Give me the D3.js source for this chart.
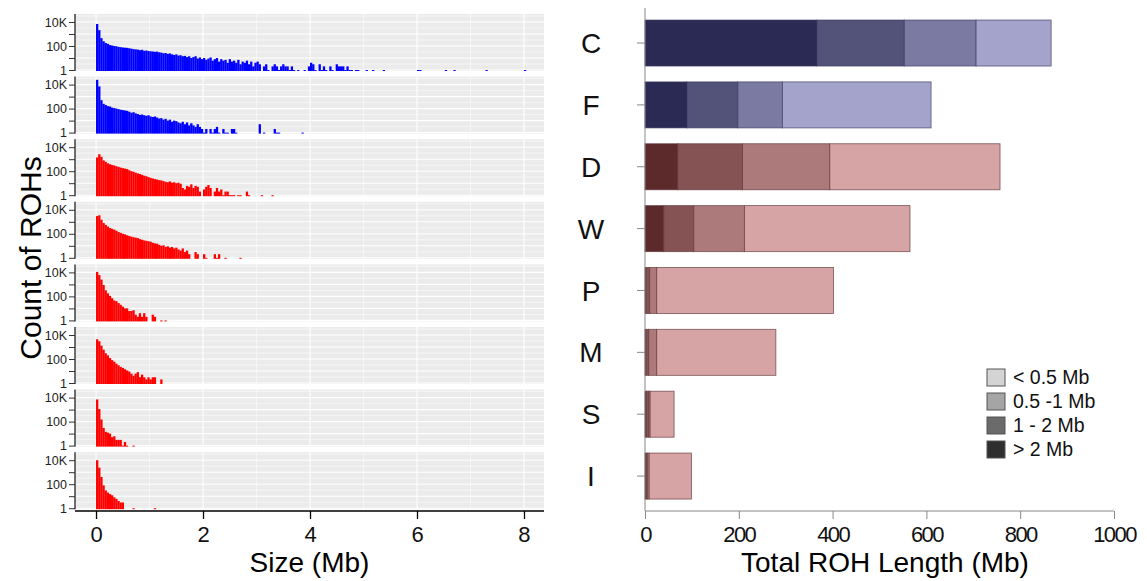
<!DOCTYPE html>
<html>
<head>
<meta charset="utf-8">
<script src="https://cdn.jsdelivr.net/npm/d3@7"></script>
<style>
  body { margin: 0; background: #fff; }
  svg { display: block; }
  text { font-family: "Liberation Sans", Arial, sans-serif; }
</style>
</head>
<body>
<svg id="chart" width="1147" height="581"></svg>
<script>
// ---- histogram data: ROH counts per 0.04 Mb size bin, one array per panel ----
const BIN_WIDTH = 0.04;
const panel1Counts = [
  6800, 2100, 450, 250, 180, 150, 120, 110, 100, 95,
  85, 80, 75, 72, 70, 65, 60, 55, 52, 50,
  45, 48, 40, 42, 38, 36, 35, 33, 34, 30,
  28, 25, 26, 22, 24, 20, 18, 20, 16, 17,
  14, 15, 12, 14, 10, 12, 14, 9, 11, 8,
  10, 7, 9, 11, 6, 8, 10, 5, 8, 6,
  7, 4, 8, 5, 6, 4, 7, 3, 5, 4,
  6, 3, 5, 2, 4, 5, 3, 0, 2, 3,
  1, 0, 2, 3, 2, 1, 2, 3, 2, 2,
  1, 2, 1, 0, 1, 0, 0, 1, 0, 2,
  4, 3, 1, 0, 3, 1, 2, 1, 0, 2,
  1, 0, 3, 2, 2, 2, 1, 2, 1, 1,
  0, 1, 1, 0, 0, 0, 1, 0, 0, 1,
  0, 0, 0, 0, 1, 0, 0, 0, 0, 0,
  0, 0, 0, 0, 0, 0, 0, 0, 0, 0,
  1, 1, 0, 0, 0, 0, 0, 0, 0, 0,
  0, 0, 0, 1, 0, 0, 0, 1, 0, 0,
  0, 0, 0, 0, 0, 0, 0, 0, 0, 0,
  0, 0, 1, 0, 0, 0, 0, 0, 0, 0,
  0, 0, 0, 0, 0, 0, 0, 0, 0, 0,
  1
];
const panel2Counts = [
  25000, 7000, 500, 250, 200, 160, 150, 120, 110, 100,
  90, 80, 75, 70, 65, 55, 45, 50, 40, 35,
  30, 32, 28, 25, 28, 22, 20, 22, 18, 15,
  16, 12, 14, 10, 12, 8, 10, 9, 7, 6,
  8, 5, 7, 4, 6, 4, 3, 5, 3, 2,
  1, 2, 0, 2, 1, 2, 3, 1, 0, 2,
  1, 1, 0, 2, 2, 1, 0, 0, 0, 0,
  0, 0, 0, 0, 0, 0, 5, 0, 1, 0,
  0, 0, 0, 2, 1, 1, 0, 0, 0, 0,
  0, 0, 0, 0, 0, 0, 1
];
const panel3Counts = [
  1400, 2600, 1600, 800, 600, 450, 380, 330, 300, 260,
  230, 200, 180, 165, 150, 120, 100, 90, 75, 65,
  58, 50, 42, 38, 32, 28, 25, 22, 20, 18,
  17, 15, 13, 12, 14, 11, 12, 10, 11, 9,
  4, 3, 6, 5, 8, 4, 6, 5, 2, 0,
  3, 5, 7, 4, 0, 2, 4, 2, 3, 1,
  2, 2, 1, 1, 1, 0, 1, 1, 0, 0,
  2, 1, 0, 0, 0, 0, 0, 1, 0, 0,
  0, 0, 1
];
const panel4Counts = [
  3000, 3500, 1500, 800, 550, 400, 300, 260, 220, 180,
  140, 120, 100, 90, 75, 65, 58, 52, 48, 44,
  36, 32, 28, 26, 24, 22, 18, 16, 15, 12,
  10, 11, 8, 9, 7, 8, 6, 7, 5, 4,
  6, 3, 4, 2, 0, 0, 3, 2, 0, 0,
  2, 1, 0, 0, 0, 2, 1, 2, 0, 0,
  1, 0, 0, 0, 0, 0, 0, 1
];
const panel5Counts = [
  11000, 6000, 2500, 900, 320, 180, 110, 70, 45, 40,
  28, 20, 14, 10, 10, 6, 6, 7, 3, 2,
  4, 2, 4, 2, 0, 0, 3, 2, 0, 0,
  1, 0, 1
];
const panel6Counts = [
  4400, 3000, 1300, 600, 300, 200, 120, 80, 60, 40,
  30, 22, 18, 14, 11, 9, 6, 4, 6, 8,
  3, 5, 3, 2, 3, 2, 3, 3, 0, 0,
  2
];
const panel7Counts = [
  7000, 1100, 150, 30, 14, 12, 10, 5, 6, 3,
  3, 3, 1, 2, 1, 0, 0, 1
];
const panel8Counts = [
  10000, 2400, 400, 80, 30, 20, 15, 12, 8, 6,
  4, 3, 3, 0, 0, 0, 0, 1, 0, 0,
  0, 0, 0, 0, 0, 0, 0, 1
];
const histPanels = [panel1Counts, panel2Counts, panel3Counts, panel4Counts,
                    panel5Counts, panel6Counts, panel7Counts, panel8Counts];
const histFill = ['#0000FF', '#0000FF', '#FF0000', '#FF0000',
                  '#FF0000', '#FF0000', '#FF0000', '#FF0000'];
const sizeTicks = [0, 2, 4, 6, 8];
const countTicks = [1, 10, 100, 1000, 10000];
const countTickLabels = { 1: '1', 100: '100', 10000: '10K' };

// ---- stacked bar data: total ROH length (Mb) per size class ----
const populations = ['C', 'F', 'D', 'W', 'P', 'M', 'S', 'I'];
const populationTone = ['navy', 'navy', 'maroon', 'maroon', 'maroon', 'maroon', 'maroon', 'maroon'];
const over2Mb = [367, 90, 70, 40, 2, 2, 3, 2];
const from1to2Mb = [186, 108, 138, 64, 8, 6, 5, 3];
const from05to1Mb = [153, 95, 186, 108, 15, 17, 3, 4];
const under05Mb = [160, 317, 363, 353, 377, 254, 51, 90];
const lengthTicks = [0, 200, 400, 600, 800, 1000];
const legendLabels = ['< 0.5 Mb', '0.5 -1 Mb', '1 - 2 Mb', '> 2 Mb'];

const svg = d3.select('#chart');

/////////////////////////////
// left: faceted histograms
/////////////////////////////
const LEFT = { x0: 75, x1: 544, top: 14, step: 62.6, h: 57 };
const xSize = d3.scaleLinear().domain([-0.393, 8.374]).range([LEFT.x0, LEFT.x1]);

histPanels.forEach((counts, i) => {
  const top = LEFT.top + i * LEFT.step;
  const yCount = d3.scaleLog()
    .domain([Math.pow(10, -1 / 12), Math.pow(10, 56 / 12)])
    .range([top + LEFT.h, top]);
  const g = svg.append('g');

  g.append('rect')
    .attr('x', LEFT.x0).attr('y', top)
    .attr('width', LEFT.x1 - LEFT.x0).attr('height', LEFT.h)
    .attr('fill', '#EBEBEB');

  // minor grid
  const minorX = d3.range(-1, 9, 2).filter((v) => v > -0.39);
  g.selectAll('.vminor').data(minorX).join('line')
    .attr('x1', (d) => xSize(d)).attr('x2', (d) => xSize(d))
    .attr('y1', top).attr('y2', top + LEFT.h)
    .attr('stroke', '#fff').attr('stroke-width', 0.5);
  const minorY = [0.5, 1.5, 2.5, 3.5, 4.5].map((e) => Math.pow(10, e));
  g.selectAll('.hminor').data(minorY).join('line')
    .attr('x1', LEFT.x0).attr('x2', LEFT.x1)
    .attr('y1', (d) => yCount(d)).attr('y2', (d) => yCount(d))
    .attr('stroke', '#fff').attr('stroke-width', 0.5);
  // major grid
  g.selectAll('.vmajor').data(sizeTicks).join('line')
    .attr('x1', (d) => xSize(d)).attr('x2', (d) => xSize(d))
    .attr('y1', top).attr('y2', top + LEFT.h)
    .attr('stroke', '#fff').attr('stroke-width', 1.1);
  g.selectAll('.hmajor').data(countTicks).join('line')
    .attr('x1', LEFT.x0).attr('x2', LEFT.x1)
    .attr('y1', (d) => yCount(d)).attr('y2', (d) => yCount(d))
    .attr('stroke', '#fff').attr('stroke-width', 1.1);

  // bars
  const bins = counts
    .map((c, j) => ({ x0: j * BIN_WIDTH, x1: (j + 1) * BIN_WIDTH, c }))
    .filter((d) => d.c > 0);
  g.selectAll('.bar').data(bins).join('rect')
    .attr('x', (d) => xSize(d.x0))
    .attr('width', (d) => xSize(d.x1) - xSize(d.x0) + 0.15)
    .attr('y', (d) => yCount(d.c))
    .attr('height', (d) => top + LEFT.h - yCount(d.c))
    .attr('fill', histFill[i]);

  // y axis
  const axisY = d3.axisLeft(yCount)
    .tickValues(countTicks)
    .tickFormat((v) => countTickLabels[v] || '')
    .tickSize(6).tickPadding(2);
  const ga = g.append('g')
    .attr('transform', `translate(${LEFT.x0},0)`)
    .call(axisY);
  ga.select('.domain').attr('stroke', '#222').attr('stroke-width', 1.3)
    .attr('d', `M0,${top}V${top + LEFT.h}`);
  ga.selectAll('.tick line').attr('stroke', '#333');
  ga.selectAll('.tick text').attr('fill', '#222').style('font-size', '12.5px');
});

// x axis of histograms
const axisXLeft = d3.axisBottom(xSize).tickValues(sizeTicks).tickSize(8).tickPadding(7);
const gxl = svg.append('g')
  .attr('transform', `translate(0,${511})`)
  .call(axisXLeft);
gxl.select('.domain').attr('stroke', '#000').attr('stroke-width', 1.3)
  .attr('d', `M${LEFT.x0},0H${LEFT.x1}`);
gxl.selectAll('.tick line').attr('stroke', '#000').attr('stroke-width', 1.3);
gxl.selectAll('.tick text').attr('fill', '#111').style('font-size', '22px');

svg.append('text')
  .attr('x', (LEFT.x0 + LEFT.x1) / 2).attr('y', 572)
  .attr('text-anchor', 'middle')
  .style('font-size', '28px')
  .text('Size (Mb)');
svg.append('text')
  .attr('transform', 'translate(41,258) rotate(-90)')
  .attr('text-anchor', 'middle')
  .style('font-size', '30px')
  .text('Count of ROHs');

/////////////////////////////
// right: stacked bars
/////////////////////////////
const xLen = d3.scaleLinear().domain([0, 1000]).range([645, 1114]);
const yPop = d3.scaleBand().domain(populations).range([12.1, 507])
  .paddingInner(0.256).paddingOuter(0.128);

const tones = {
  navy: ['#2b2a55', '#535279', '#7b7aa2', '#a4a3cc'],
  maroon: ['#5c2a2b', '#855354', '#ac7a7a', '#d6a4a5'],
};
const toneStroke = { navy: '#3a395e', maroon: '#5e3233' };

const keys = ['over2', 'from1to2', 'from05to1', 'under05'];
const rows = populations.map((p, i) => ({
  pop: p,
  tone: populationTone[i],
  over2: over2Mb[i],
  from1to2: from1to2Mb[i],
  from05to1: from05to1Mb[i],
  under05: under05Mb[i],
}));
const stacked = d3.stack().keys(keys)(rows);

stacked.forEach((layer, k) => {
  svg.append('g').selectAll('rect').data(layer).join('rect')
    .attr('x', (d) => xLen(d[0]))
    .attr('width', (d) => xLen(d[1]) - xLen(d[0]))
    .attr('y', (d) => yPop(d.data.pop))
    .attr('height', yPop.bandwidth())
    .attr('fill', (d) => tones[d.data.tone][k])
    .attr('stroke', (d) => toneStroke[d.data.tone])
    .attr('stroke-opacity', 0.7)
    .attr('stroke-width', 0.9);
});

// axes
const axisPop = d3.axisLeft(yPop).tickSize(8).tickPadding(0);
const gyr = svg.append('g').attr('transform', 'translate(645,0)').call(axisPop);
gyr.select('.domain').attr('stroke', '#888').attr('d', 'M0,8V511');
gyr.selectAll('.tick line').attr('stroke', '#888');
gyr.selectAll('.tick text')
  .attr('x', -54).attr('text-anchor', 'middle').attr('dy', '0.36em')
  .attr('fill', '#111').style('font-size', '28px');

const axisLen = d3.axisBottom(xLen).tickValues(lengthTicks)
  .tickFormat(d3.format('d')).tickSize(8).tickPadding(7);
const gxr = svg.append('g').attr('transform', 'translate(0,511)').call(axisLen);
gxr.select('.domain').attr('stroke', '#888').attr('d', 'M645,0H1114');
gxr.selectAll('.tick line').attr('stroke', '#888');
gxr.selectAll('.tick text').attr('fill', '#111')
  .style('font-size', '22px').style('letter-spacing', '-1.6px');

svg.append('text')
  .attr('x', 885).attr('y', 572)
  .attr('text-anchor', 'middle')
  .style('font-size', '28px')
  .text('Total ROH Length (Mb)');

// legend
const legendFill = ['#d4d4d4', '#a5a5a5', '#6b6b6b', '#2f2f2f'];
const legendTop = [369, 393, 417, 441];
const lg = svg.append('g');
legendLabels.forEach((lab, i) => {
  lg.append('rect')
    .attr('x', 987).attr('y', legendTop[i])
    .attr('width', 18).attr('height', 17)
    .attr('fill', legendFill[i]).attr('stroke', '#555').attr('stroke-width', 1);
  lg.append('text')
    .attr('x', 1013).attr('y', legendTop[i] + 15)
    .style('font-size', '19.5px').attr('fill', '#111')
    .text(lab);
});
</script>
</body>
</html>
